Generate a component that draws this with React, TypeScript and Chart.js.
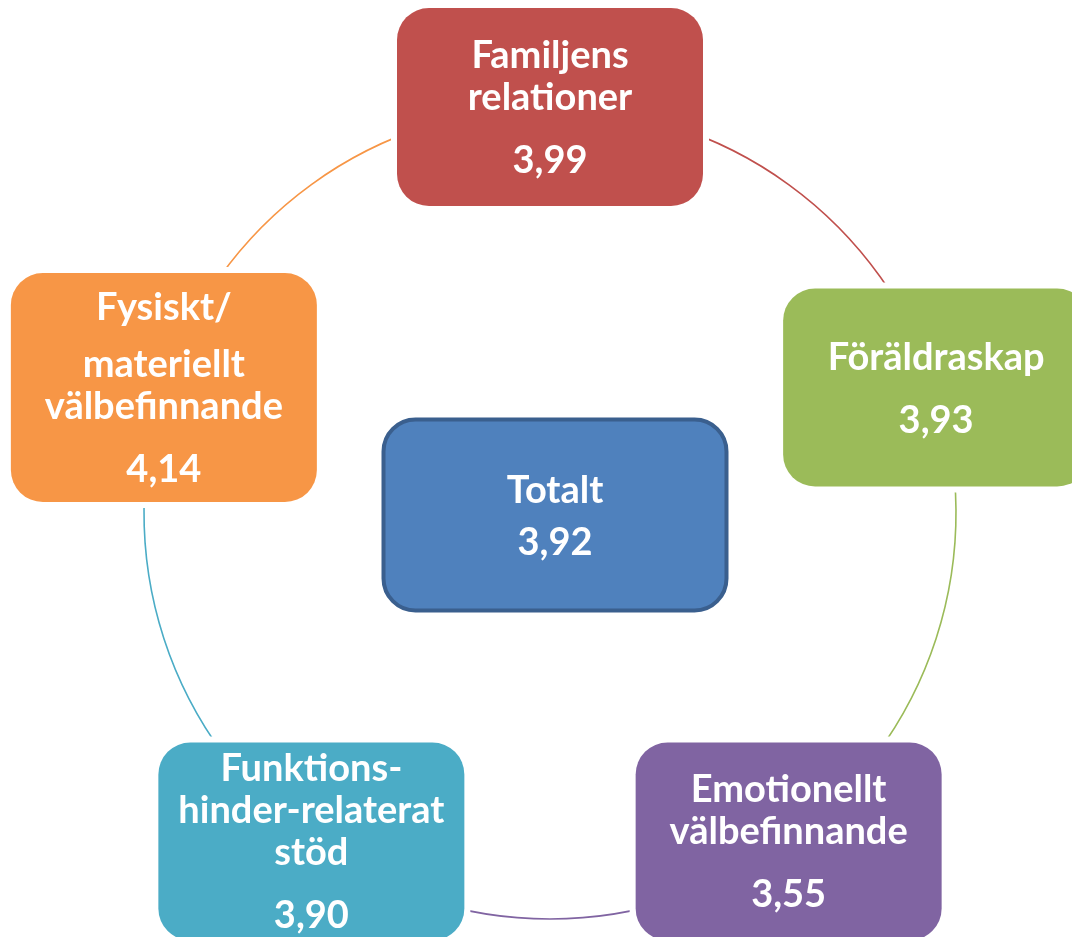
import React, { useEffect, useRef } from "react";
import { Chart, registerables } from "chart.js";

Chart.register(...registerables);

// ---- data ----
// "\n" = line break, "\n\n" = paragraph break
const categories: string[] = [
  "Familjens\nrelationer",
  "Föräldraskap",
  "Emotionellt\nvälbefinnande",
  "Funktions-\nhinder-relaterat\nstöd",
  "Fysiskt/\n\nmateriellt\nvälbefinnande",
];
const values: number[] = [3.99, 3.93, 3.55, 3.9, 4.14];
const totalLabel = "Totalt";
const totalValue = 3.92;

// ---- styles ----
const boxColors = ["#C0504D", "#9BBB59", "#8064A2", "#4BACC6", "#F79646"];
const centerFill = "#4F81BD";
const centerBorder = "#3A5F8E";
const FONT = 'bold 38px Lato, "Liberation Sans", sans-serif';
const BOX_W = 306;
const BOX_H = 198;
const PAD_Y = 20;
const RADIUS = 32;
const LINE_H = 42;
const PARA_GAP = 57;
const VALUE_GAP = 63;
const CAP = 27;
const ARC_GAP = 6;
const CENTER_W = 343;
const CENTER_H = 191;
const CENTER_DX = 5;
const CENTER_DY = 2;

const fmt = (v: number) => v.toFixed(2).replace(".", ",");

type Line = { text: string; off: number };

function layoutText(label: string, value: string, valueGap: number) {
  const lines: Line[] = [];
  let y = 0;
  const paras = label.split("\n\n");
  paras.forEach((p, pi) => {
    p.split("\n").forEach((t, li) => {
      if (pi > 0 && li === 0) y += PARA_GAP;
      else if (lines.length > 0) y += LINE_H;
      lines.push({ text: t, off: y });
    });
  });
  y += valueGap;
  lines.push({ text: value, off: y });
  return { lines, height: y + CAP, paras: paras.length };
}

function roundRect(ctx: CanvasRenderingContext2D, x: number, y: number, w: number, h: number, r: number) {
  ctx.beginPath();
  ctx.moveTo(x + r, y);
  ctx.lineTo(x + w - r, y);
  ctx.arcTo(x + w, y, x + w, y + r, r);
  ctx.lineTo(x + w, y + h - r);
  ctx.arcTo(x + w, y + h, x + w - r, y + h, r);
  ctx.lineTo(x + r, y + h);
  ctx.arcTo(x, y + h, x, y + h - r, r);
  ctx.lineTo(x, y + r);
  ctx.arcTo(x, y, x + r, y, r);
  ctx.closePath();
}

const cyclePlugin = {
  id: "cycleDiagram",
  afterDatasetsDraw(chart: any) {
    const ctx: CanvasRenderingContext2D = chart.ctx;
    const scale = chart.scales.r;
    const n = categories.length;
    const R = scale.drawingArea;
    const cx = scale.xCenter;
    const cy = scale.yCenter;

    const boxes = categories.map((label, i) => {
      const pos = scale.getPointPosition(i, R);
      const lay = layoutText(label, fmt(values[i]), VALUE_GAP);
      const h = lay.paras > 1 ? Math.max(BOX_H, lay.height + 2 * PAD_Y) : BOX_H;
      return { x: pos.x - BOX_W / 2, y: pos.y - h / 2, w: BOX_W, h, cxb: pos.x, cyb: pos.y, lay };
    });

    // connector arcs, clipped around boxes
    ctx.save();
    ctx.beginPath();
    ctx.rect(0, 0, chart.width, chart.height);
    boxes.forEach((b) => {
      ctx.rect(b.x - ARC_GAP, b.y - ARC_GAP, b.w + 2 * ARC_GAP, b.h + 2 * ARC_GAP);
    });
    ctx.clip("evenodd");
    ctx.lineWidth = 1.6;
    for (let i = 0; i < n; i++) {
      const a0 = scale.getIndexAngle(i) - Math.PI / 2;
      const a1 = scale.getIndexAngle((i + 1) % n) - Math.PI / 2 + (i === n - 1 ? 2 * Math.PI : 0);
      ctx.beginPath();
      ctx.strokeStyle = boxColors[i];
      ctx.arc(cx, cy, R, a0, a1);
      ctx.stroke();
    }
    ctx.restore();

    // outer boxes
    ctx.save();
    ctx.font = FONT;
    ctx.textAlign = "center";
    ctx.textBaseline = "alphabetic";
    boxes.forEach((b, i) => {
      roundRect(ctx, b.x, b.y, b.w, b.h, RADIUS);
      ctx.fillStyle = boxColors[i];
      ctx.fill();
      ctx.fillStyle = "#FFFFFF";
      const top = b.cyb - b.lay.height / 2 + CAP;
      b.lay.lines.forEach((l) => ctx.fillText(l.text, b.cxb, top + l.off));
    });

    // center box
    const ccx = cx + CENTER_DX;
    const ccy = cy + CENTER_DY;
    const cl = layoutText(totalLabel, fmt(totalValue), 52);
    roundRect(ctx, ccx - CENTER_W / 2, ccy - CENTER_H / 2, CENTER_W, CENTER_H, RADIUS);
    ctx.fillStyle = centerFill;
    ctx.fill();
    ctx.lineWidth = 4;
    ctx.strokeStyle = centerBorder;
    ctx.stroke();
    ctx.fillStyle = "#FFFFFF";
    const ctop = ccy - cl.height / 2 + CAP;
    cl.lines.forEach((l) => ctx.fillText(l.text, ccx, ctop + l.off));
    ctx.restore();
  },
};

export default function App() {
  const ref = useRef<HTMLCanvasElement | null>(null);
  useEffect(() => {
    if (!ref.current) return;
    const chart = new Chart(ref.current, {
      type: "radar",
      data: {
        labels: categories,
        datasets: [
          {
            data: values,
            pointRadius: 0,
            borderWidth: 0,
            backgroundColor: "rgba(0,0,0,0)",
            borderColor: "rgba(0,0,0,0)",
          },
        ],
      },
      options: {
        responsive: false,
        animation: false,
        layout: { padding: { left: 28, right: 0, top: 107, bottom: 18 } },
        plugins: { legend: { display: false }, tooltip: { enabled: false } },
        scales: {
          r: {
            min: 0,
            max: 5,
            ticks: { display: false },
            grid: { display: false },
            angleLines: { display: false },
            pointLabels: { display: false },
          },
        },
      },
      plugins: [cyclePlugin],
    });
    return () => chart.destroy();
  }, []);
  return (
    <div style={{ position: "absolute", left: 0, top: 0, width: 1072, height: 937, overflow: "hidden", background: "#fff" }}>
      <canvas ref={ref} width={1072} height={937} />
    </div>
  );
}
